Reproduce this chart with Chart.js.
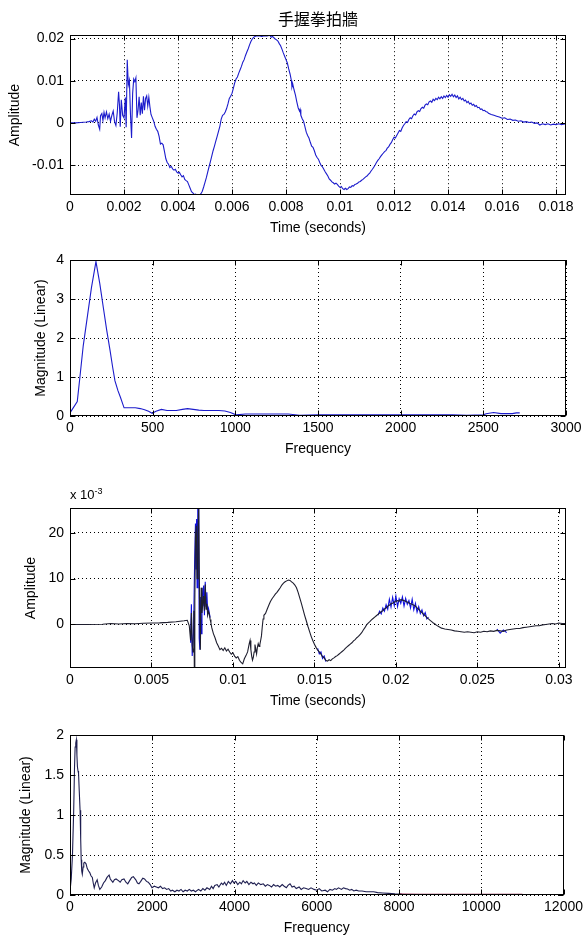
<!DOCTYPE html>
<html>
<head>
<meta charset="utf-8">
<title>手握拳拍牆</title>
<script src="https://cdn.jsdelivr.net/npm/chart.js@4.4.1/dist/chart.umd.min.js"></script>
<style>
    html, body { margin: 0; padding: 0; background: #fff; }
    #page { position: relative; width: 587px; height: 937px; background: #fff; overflow: hidden; }
    #page canvas { position: absolute; left: 0; }
    .mult { position: absolute; left: 70px; top: 486px; font: 13px "Liberation Sans", Arial, sans-serif; color: #000; }
    .mult sup { font-size: 9px; }
</style>
</head>
<body>
<div id="page">
    <canvas id="c1" width="587" height="235" style="top:0px"></canvas>
    <canvas id="c2" width="587" height="216" style="top:240px"></canvas>
    <canvas id="c3" width="587" height="238" style="top:470px"></canvas>
    <canvas id="c4" width="587" height="225" style="top:710px"></canvas>
    <div class="mult">x 10<sup>-3</sup></div>
</div>
<script>
    "use strict";

    // --- plot 1: recorded waveform, [time s, amplitude] ---
    const wave1 = [
        [0, 0], [0.0002, 0], [0.0004, 0.0001], [0.0006, 0.0002], [0.0007, 0.0003], [0.0008, 0.0005],
        [0.00085, 0.0002], [0.0009, 0.0009], [0.00095, 0.0004], [0.001, 0.0013], [0.00105, -0.0005],
        [0.0011, -0.0015], [0.00113, 0.0017], [0.00118, 0.0022], [0.00122, 0.0006], [0.00126, 0.0025],
        [0.0013, 0.0012], [0.00135, 0.0026], [0.0014, 0.0010], [0.00145, 0.0021], [0.0015, 0.0004],
        [0.00155, 0.0018], [0.0016, 0.0028], [0.00165, 0.0003], [0.0017, -0.0006], [0.00175, 0.0024],
        [0.0018, 0.0074], [0.00183, 0.0045], [0.00186, -0.0009], [0.0019, 0.0055], [0.00195, 0.0018],
        [0.002, 0.0012], [0.00205, 0.0060], [0.00208, -0.0010], [0.00212, 0.0150], [0.00216, 0.0090],
        [0.0022, 0.0101], [0.00224, 0.0020], [0.00228, -0.0036], [0.00232, 0.0070], [0.00236, 0.0104],
        [0.0024, 0.0098], [0.00244, 0.0107], [0.00248, 0.0012], [0.00252, 0.0030], [0.00256, 0.0062],
        [0.0026, 0.0018], [0.00264, 0.0048], [0.00268, 0.0022], [0.00272, 0.0063], [0.00276, 0.0030],
        [0.0028, 0.0058], [0.00284, 0.0064], [0.00288, 0.0040], [0.00292, 0.0061], [0.00296, 0.0038],
        [0.003, 0.0020], [0.00305, 0.0012], [0.0031, 0.0004], [0.00315, -0.0008], [0.0032, -0.0015],
        [0.00325, -0.0020], [0.0033, -0.0032], [0.00335, -0.0050], [0.0034, -0.0048], [0.00345, -0.0052],
        [0.0035, -0.0068], [0.00355, -0.0085], [0.0036, -0.0094], [0.00365, -0.0098], [0.0037, -0.0106],
        [0.00375, -0.0103], [0.0038, -0.0109], [0.00385, -0.0112], [0.0039, -0.0110], [0.00395, -0.0116],
        [0.004, -0.0119], [0.00405, -0.0117], [0.0041, -0.0123], [0.00415, -0.0128], [0.0042, -0.0125],
        [0.00425, -0.0134], [0.0043, -0.0137], [0.00435, -0.0139], [0.0044, -0.0147], [0.00445, -0.0155],
        [0.0045, -0.0163], [0.00455, -0.0166], [0.0046, -0.0170], [0.00465, -0.0169], [0.0047, -0.0171],
        [0.00475, -0.0170], [0.0048, -0.0171], [0.00485, -0.0168], [0.0049, -0.0162], [0.00495, -0.0152],
        [0.005, -0.0141], [0.00505, -0.0130], [0.0051, -0.0117], [0.00515, -0.0104], [0.0052, -0.0092],
        [0.00525, -0.0079], [0.0053, -0.0066], [0.00535, -0.0055], [0.0054, -0.0043], [0.00545, -0.0032],
        [0.0055, -0.0020], [0.00555, -0.0008], [0.0056, 0.0009], [0.00565, 0.0018], [0.0057, 0.0020],
        [0.00575, 0.0026], [0.0058, 0.0034], [0.00585, 0.0045], [0.0059, 0.0058], [0.00595, 0.0063],
        [0.006, 0.0070], [0.00605, 0.0082], [0.0061, 0.0095], [0.00615, 0.0104], [0.0062, 0.0109],
        [0.00625, 0.0118], [0.0063, 0.0126], [0.00635, 0.0134], [0.0064, 0.0144], [0.00645, 0.0150],
        [0.0065, 0.0160], [0.00655, 0.0168], [0.0066, 0.0176], [0.00665, 0.0185], [0.0067, 0.0193],
        [0.00675, 0.0199], [0.0068, 0.0203], [0.00685, 0.0205], [0.0069, 0.0206], [0.007, 0.0207],
        [0.0071, 0.0205], [0.0072, 0.0207], [0.0073, 0.0206], [0.0074, 0.0208], [0.00745, 0.0203],
        [0.0075, 0.0205], [0.0076, 0.0199], [0.00765, 0.0197], [0.0077, 0.0194], [0.00775, 0.0188],
        [0.0078, 0.0183], [0.00785, 0.0175], [0.0079, 0.0166], [0.00795, 0.0158], [0.008, 0.0150],
        [0.00805, 0.0142], [0.0081, 0.0128], [0.00815, 0.0116], [0.0082, 0.0100], [0.00822, 0.0085],
        [0.00825, 0.0092], [0.0083, 0.0078], [0.00835, 0.0066], [0.0084, 0.0050], [0.00845, 0.0036],
        [0.0085, 0.0028], [0.00852, 0.0032], [0.00855, 0.0018], [0.0086, 0.0010], [0.00865, 0.0004],
        [0.0087, -0.0009], [0.00875, -0.0022], [0.0088, -0.0030], [0.00885, -0.0036], [0.0089, -0.0046],
        [0.00895, -0.0055], [0.009, -0.0058], [0.00905, -0.0066], [0.0091, -0.0076], [0.00915, -0.0082],
        [0.0092, -0.0086], [0.00925, -0.0094], [0.0093, -0.0101], [0.00935, -0.0104], [0.0094, -0.0110],
        [0.00945, -0.0116], [0.0095, -0.0121], [0.00955, -0.0126], [0.0096, -0.0133], [0.00965, -0.0136],
        [0.0097, -0.0140], [0.00975, -0.0142], [0.0098, -0.0145], [0.00985, -0.0143], [0.0099, -0.0146],
        [0.00995, -0.0150], [0.01, -0.0153], [0.01005, -0.0151], [0.0101, -0.0156], [0.01015, -0.0158],
        [0.0102, -0.0155], [0.01025, -0.0158], [0.0103, -0.0156], [0.01035, -0.0152], [0.0104, -0.0153],
        [0.01045, -0.0149], [0.0105, -0.0150], [0.01055, -0.0146], [0.0106, -0.0145], [0.01065, -0.0143],
        [0.0107, -0.0140], [0.01075, -0.0139], [0.0108, -0.0136], [0.01085, -0.0134], [0.0109, -0.0131],
        [0.01095, -0.0128], [0.011, -0.0126], [0.01105, -0.0122], [0.0111, -0.0119], [0.01115, -0.0114],
        [0.0112, -0.0110], [0.01125, -0.0105], [0.0113, -0.0100], [0.01135, -0.0094], [0.0114, -0.0089],
        [0.01145, -0.0085], [0.0115, -0.0080], [0.01155, -0.0076], [0.0116, -0.0072], [0.01165, -0.0068],
        [0.0117, -0.0066], [0.01175, -0.0060], [0.0118, -0.0057], [0.01185, -0.0051], [0.0119, -0.0047],
        [0.01195, -0.0040], [0.012, -0.0034], [0.01205, -0.0036], [0.0121, -0.0030], [0.01215, -0.0024],
        [0.0122, -0.0018], [0.01225, -0.0020], [0.0123, -0.0012], [0.01235, -0.0006], [0.0124, -0.0002],
        [0.01245, 0.0003], [0.0125, 0.0001], [0.01255, 0.0008], [0.0126, 0.0012], [0.01265, 0.0010],
        [0.0127, 0.0017], [0.01275, 0.0021], [0.0128, 0.0019], [0.01285, 0.0026], [0.0129, 0.0029],
        [0.01295, 0.0027], [0.013, 0.0034], [0.01305, 0.0037], [0.0131, 0.0035], [0.01315, 0.0042],
        [0.0132, 0.0045], [0.01325, 0.0043], [0.0133, 0.0050], [0.01335, 0.0052], [0.0134, 0.0049],
        [0.01345, 0.0056], [0.0135, 0.0053], [0.01355, 0.0058], [0.0136, 0.0055], [0.01365, 0.0061],
        [0.0137, 0.0057], [0.01375, 0.0062], [0.0138, 0.0058], [0.01385, 0.0064], [0.0139, 0.0060],
        [0.01395, 0.0065], [0.014, 0.0061], [0.01405, 0.0067], [0.0141, 0.0063], [0.01415, 0.0068],
        [0.0142, 0.0062], [0.01425, 0.0066], [0.0143, 0.0060], [0.01435, 0.0064], [0.0144, 0.0057],
        [0.01445, 0.0061], [0.0145, 0.0055], [0.01455, 0.0058], [0.0146, 0.0052], [0.01465, 0.0054],
        [0.0147, 0.0048], [0.01475, 0.0051], [0.0148, 0.0045], [0.01485, 0.0047], [0.0149, 0.0042],
        [0.01495, 0.0044], [0.015, 0.0039], [0.01505, 0.0041], [0.0151, 0.0036], [0.01515, 0.0037],
        [0.0152, 0.0032], [0.01525, 0.0033], [0.0153, 0.0029], [0.01535, 0.0030], [0.0154, 0.0027],
        [0.01545, 0.0026], [0.0155, 0.0023], [0.0156, 0.0020], [0.0157, 0.0018], [0.0158, 0.0016],
        [0.0159, 0.0014], [0.016, 0.0011], [0.0161, 0.0012], [0.0162, 0.0008], [0.0163, 0.0009],
        [0.0164, 0.0006], [0.0165, 0.0007], [0.0166, 0.0004], [0.0167, 0.0005], [0.0168, 0.0002],
        [0.0169, 0.0003], [0.017, 0.0001], [0.0171, 0.0002], [0.0172, -0.0001], [0.0173, 0.0000],
        [0.0174, -0.0005], [0.0175, -0.0002], [0.0176, -0.0004], [0.0177, -0.0002], [0.0178, -0.0005],
        [0.0179, -0.0003], [0.018, -0.0004], [0.0181, -0.0002], [0.0182, -0.0004], [0.01837, -0.0002]
    ];

    // --- plot 2: spectrum of plot 1, [Hz, magnitude] ---
    const spec1 = [
        [0, 0.08], [44, 0.37], [60, 1.0], [80, 1.8], [105, 2.55], [130, 3.3], [157, 3.96], [180, 3.4],
        [202, 2.77], [222, 2.2], [242, 1.69], [258, 1.25], [272, 0.9], [290, 0.65], [305, 0.48],
        [327, 0.21], [350, 0.21], [395, 0.21], [425, 0.19], [451, 0.16], [475, 0.12], [497, 0.07],
        [520, 0.12], [553, 0.17], [587, 0.14], [620, 0.14], [643, 0.14], [680, 0.17], [711, 0.19],
        [745, 0.17], [779, 0.15], [810, 0.14], [846, 0.14], [900, 0.14], [937, 0.13], [970, 0.09],
        [1005, 0.03], [1061, 0.05], [1200, 0.05], [1320, 0.05], [1388, 0.02], [1500, 0.03], [1800, 0.03],
        [2100, 0.03], [2314, 0.03], [2400, 0.02], [2500, 0.03], [2517, 0.06], [2562, 0.09], [2607, 0.06],
        [2675, 0.06], [2700, 0.08], [2720, 0.08]
    ];

    // --- plot 3: second recording, amplitude in units of 1e-3 ---
    const wave2 = [
        [0, 0], [0.001, 0], [0.002, 0.05], [0.0025, 0.2], [0.003, 0.1], [0.0035, 0.2], [0.004, 0.15],
        [0.0045, 0.25], [0.005, 0.3], [0.0055, 0.35], [0.006, 0.45], [0.0065, 0.6], [0.007, 0.8],
        [0.0072, 0.9], [0.00732, -0.3], [0.0074, -3.5], [0.00745, 2.5], [0.0075, -4.5], [0.00755, -6],
        [0.0076, 3], [0.00763, -9.5], [0.00766, 5], [0.0077, 19], [0.00775, 21.5], [0.0078, 10],
        [0.00785, 20], [0.0079, 25.4], [0.00795, 5], [0.008, -5.5], [0.00805, 8], [0.0081, 2.5],
        [0.00815, 4.5], [0.0082, 6.2], [0.00825, 3], [0.0083, 8.7], [0.00835, 3.3], [0.0084, 4.5],
        [0.00845, 2], [0.0085, 2.8], [0.00855, 2.3], [0.0086, 1.1], [0.00865, 0.3], [0.0087, -0.7],
        [0.0088, -2.0], [0.0089, -2.9], [0.009, -4.0], [0.0091, -4.7], [0.0092, -5.5], [0.0093, -5.2],
        [0.0094, -5.7], [0.0095, -5.1], [0.0096, -5.8], [0.0097, -5.4], [0.0098, -6.0], [0.0099, -6.5],
        [0.01, -6.2], [0.0101, -6.9], [0.0102, -7.3], [0.0103, -7.0], [0.0104, -7.8], [0.0105, -8.3],
        [0.0106, -8.6], [0.0107, -7.5], [0.0108, -6.8], [0.0109, -6.0], [0.011, -4.2], [0.01105, -3.5],
        [0.0111, -5.5], [0.01115, -6.9], [0.0112, -7.8], [0.01125, -7.2], [0.0113, -6.0], [0.01135, -4.4],
        [0.0114, -5.3], [0.01145, -6.4], [0.0115, -5.0], [0.01155, -4.2], [0.0116, -4.8], [0.01165, -4.4],
        [0.0117, -3.5], [0.01175, -2.5], [0.0118, -0.5], [0.01185, 1.2], [0.0119, 2.0], [0.012, 2.4],
        [0.0121, 3.3], [0.0122, 4.2], [0.0123, 5.0], [0.0124, 5.6], [0.0125, 6.1], [0.0126, 6.6],
        [0.0127, 7.0], [0.0128, 7.5], [0.0129, 8.0], [0.013, 8.6], [0.0131, 9.0], [0.0132, 9.3],
        [0.0133, 9.5], [0.0134, 9.7], [0.0135, 9.6], [0.0136, 9.3], [0.0137, 9.0], [0.0138, 8.6],
        [0.0139, 8.0], [0.014, 7.0], [0.0141, 5.8], [0.0142, 4.6], [0.0143, 3.3], [0.0144, 2.0],
        [0.0145, 0.8], [0.0146, -0.4], [0.0147, -1.5], [0.0148, -2.6], [0.0149, -3.5], [0.015, -4.3],
        [0.0151, -5.0], [0.0152, -5.6], [0.0153, -6.0], [0.0154, -6.5], [0.0155, -7.0], [0.0156, -7.3],
        [0.0157, -7.8], [0.0158, -8.0], [0.0159, -7.7], [0.016, -7.9], [0.0161, -7.5], [0.0162, -7.3],
        [0.0163, -7.0], [0.0164, -6.8], [0.0165, -6.5], [0.0166, -6.2], [0.0167, -5.9], [0.0168, -5.6],
        [0.0169, -5.2], [0.017, -4.9], [0.0171, -4.6], [0.0172, -4.3], [0.0173, -4.0], [0.0174, -3.6],
        [0.0175, -3.3], [0.0176, -2.9], [0.0177, -2.6], [0.0178, -2.2], [0.0179, -1.8], [0.018, -1.2],
        [0.0181, -0.7], [0.0182, -0.1], [0.0183, 0.3], [0.0184, 0.6], [0.0185, 1.0], [0.0186, 1.3],
        [0.0187, 1.6], [0.0188, 1.9], [0.0189, 2.2], [0.019, 2.5], [0.0191, 2.8], [0.0192, 3.0],
        [0.0193, 3.4], [0.0194, 3.6], [0.0195, 4.0], [0.0196, 4.2], [0.0197, 4.5], [0.0198, 4.6],
        [0.0199, 4.9], [0.02, 5.0], [0.0201, 5.2], [0.0202, 5.1], [0.0203, 5.4], [0.0204, 5.3],
        [0.0205, 5.2], [0.0206, 5.0], [0.0207, 4.9], [0.0208, 4.7], [0.0209, 4.5], [0.021, 4.4],
        [0.0211, 4.2], [0.0212, 4.0], [0.0213, 3.6], [0.0214, 3.3], [0.0215, 2.9], [0.0216, 2.6],
        [0.0217, 2.2], [0.0218, 1.9], [0.0219, 1.5], [0.022, 1.2], [0.0221, 0.9], [0.0222, 0.6],
        [0.0223, 0.3], [0.0224, 0.1], [0.0225, -0.2], [0.0226, -0.4], [0.0227, -0.6], [0.0228, -0.8],
        [0.0229, -0.9], [0.023, -1.0], [0.0232, -1.1], [0.0234, -1.2], [0.0236, -1.4], [0.0238, -1.5],
        [0.024, -1.6], [0.0242, -1.7], [0.0244, -1.6], [0.0246, -1.7], [0.0248, -1.8], [0.025, -1.6],
        [0.0252, -1.7], [0.0254, -1.5], [0.0256, -1.6], [0.0258, -1.4], [0.026, -1.5], [0.0262, -1.3],
        [0.0264, -1.4], [0.0266, -1.5], [0.0268, -1.2], [0.027, -1.1], [0.0272, -1.0], [0.0274, -0.9],
        [0.0276, -0.9], [0.0278, -0.7], [0.028, -0.6], [0.0282, -0.5], [0.0284, -0.4], [0.0286, -0.3],
        [0.0288, -0.3], [0.029, -0.1], [0.0292, 0.0], [0.0294, 0.1], [0.0296, 0.2], [0.0298, 0.1],
        [0.03, 0.3], [0.0302, 0.2], [0.0304, 0.2]
    ];

    // blue raw trace, only where it shows from under the dark one (null = gap)
    const wave2Raw = [
        [0.0074, -4], [0.00745, 4.4], [0.0075, -6.9], [0.00758, -2], [0.00765, 14], [0.0077, 22],
        [0.00773, 12], [0.00777, 23], [0.0078, 8], [0.00784, 25.4], [0.00788, 18], [0.0079, 25.4],
        [0.00793, -3], [0.00797, -5.5], [0.008, 6], [0.00805, -2], [0.0081, 8], [0.00815, 4],
        [0.0082, 8.5], [0.00825, 2], [0.0083, 9.3], [0.00835, 4], [0.0084, 7], [0.00845, 2.5],
        [0.0085, 3.5], [0.0086, 1.5], [0.0087, null],
        [0.0152, -5.2], [0.0153, -6.4], [0.0154, -6.0], [0.0155, -7.4], [0.0156, -6.9], [0.0157, -8.1],
        [0.0158, null],
        [0.0189, 2.0], [0.019, 2.9], [0.0191, 2.3], [0.0192, 3.6], [0.0193, 2.9], [0.0194, 4.3],
        [0.0195, 3.3], [0.0196, 5.5], [0.0197, 3.8], [0.0198, 5.9], [0.0199, 4.1], [0.02, 6.2],
        [0.0201, 3.9], [0.0202, 5.6], [0.0203, 4.6], [0.0204, 6.0], [0.0205, 4.0], [0.0206, 5.7],
        [0.0207, 4.4], [0.0208, 5.2], [0.0209, 3.6], [0.021, 5.5], [0.0211, 3.2], [0.0212, 4.6],
        [0.0213, 2.7], [0.0214, 3.9], [0.0215, 2.4], [0.0216, 3.2], [0.0217, 1.9], [0.0218, 2.6],
        [0.0219, 1.2], [0.022, 1.6], [0.0221, null],
        [0.0262, -1.0], [0.0264, -1.9], [0.0266, -1.2], [0.0268, -1.8]
    ];

    // --- plot 4: spectrum of plot 3, [Hz, magnitude] ---
    const spec2 = [
        [0, 0.05], [30, 0.2], [60, 0.5], [90, 1.06], [110, 1.6], [125, 1.85], [140, 1.9], [154, 1.94],
        [168, 1.75], [181, 1.6], [195, 1.55], [208, 1.52], [225, 1.3], [245, 1.06], [260, 0.7],
        [272, 0.44], [285, 0.3], [299, 0.26], [320, 0.35], [335, 0.4], [360, 0.41], [390, 0.39],
        [420, 0.33], [453, 0.3], [480, 0.28], [510, 0.24], [543, 0.22], [565, 0.15], [589, 0.09],
        [620, 0.15], [661, 0.19], [690, 0.12], [725, 0.07], [770, 0.1], [815, 0.15], [860, 0.18],
        [900, 0.22], [951, 0.25], [980, 0.2], [1010, 0.18], [1042, 0.16], [1080, 0.19], [1120, 0.2],
        [1178, 0.18], [1220, 0.16], [1260, 0.19], [1313, 0.2], [1360, 0.16], [1404, 0.14], [1450, 0.18],
        [1500, 0.22], [1540, 0.23], [1600, 0.19], [1640, 0.15], [1676, 0.14], [1720, 0.17], [1770, 0.21],
        [1812, 0.2], [1860, 0.17], [1902, 0.16], [1950, 0.13], [1993, 0.09], [2050, 0.11], [2100, 0.1],
        [2150, 0.09], [2200, 0.11], [2250, 0.08], [2300, 0.09], [2350, 0.07], [2400, 0.08], [2450, 0.05],
        [2491, 0.06], [2550, 0.04], [2600, 0.06], [2650, 0.05], [2700, 0.07], [2750, 0.04], [2800, 0.06],
        [2853, 0.05], [2900, 0.07], [2950, 0.05], [3000, 0.06], [3050, 0.04], [3125, 0.07], [3180, 0.05],
        [3230, 0.08], [3280, 0.06], [3330, 0.09], [3397, 0.07], [3440, 0.11], [3480, 0.08], [3520, 0.12],
        [3578, 0.13], [3620, 0.1], [3680, 0.15], [3720, 0.13], [3759, 0.16], [3800, 0.12], [3850, 0.17],
        [3900, 0.14], [3950, 0.18], [3986, 0.15], [4030, 0.17], [4080, 0.13], [4130, 0.16], [4167, 0.14],
        [4210, 0.18], [4260, 0.15], [4300, 0.17], [4350, 0.13], [4400, 0.16], [4450, 0.14], [4484, 0.15],
        [4530, 0.12], [4580, 0.15], [4640, 0.13], [4700, 0.14], [4750, 0.11], [4800, 0.13], [4846, 0.12],
        [4900, 0.1], [4950, 0.13], [5000, 0.11], [5050, 0.12], [5100, 0.1], [5160, 0.13], [5208, 0.11],
        [5260, 0.09], [5300, 0.12], [5350, 0.14], [5400, 0.1], [5450, 0.11], [5500, 0.08], [5571, 0.1],
        [5620, 0.07], [5680, 0.09], [5740, 0.08], [5800, 0.07], [5860, 0.09], [5933, 0.07], [6000, 0.06],
        [6060, 0.08], [6120, 0.05], [6205, 0.06], [6260, 0.04], [6320, 0.07], [6380, 0.06], [6440, 0.08],
        [6476, 0.07], [6530, 0.09], [6600, 0.07], [6650, 0.09], [6700, 0.08], [6748, 0.075], [6800, 0.06],
        [6850, 0.07], [6900, 0.05], [6960, 0.06], [7020, 0.05], [7100, 0.05], [7200, 0.04], [7300, 0.04],
        [7382, 0.04], [7480, 0.03], [7600, 0.025], [7745, 0.02], [7900, 0.015], [8062, 0.012]
    ];
    const spec2Tail = [
        [8000, 0.012], [8500, 0.01], [9000, 0.01], [9500, 0.01], [10000, 0.01], [10500, 0.01], [11000, 0.01]
    ];

    // tick values
    const ticksX1 = [0, 0.002, 0.004, 0.006, 0.008, 0.01, 0.012, 0.014, 0.016, 0.018];
    const ticksY1 = [-0.01, 0, 0.01, 0.02];
    const ticksX2 = [0, 500, 1000, 1500, 2000, 2500, 3000];
    const ticksY2 = [0, 1, 2, 3, 4];
    const ticksX3 = [0, 0.005, 0.01, 0.015, 0.02, 0.025, 0.03];
    const ticksY3 = [0, 10, 20];
    const ticksX4 = [0, 2000, 4000, 6000, 8000, 10000, 12000];
    const ticksY4 = [0, 0.5, 1, 1.5, 2];

    const FONT = '"Liberation Sans", Arial, Helvetica, sans-serif';
    const BLUE = '#1c1ccc';

    function fmtTick(v) {
        return String(Number(Number(v).toPrecision(6)));
    }

    // matlab style axes box with inward tick marks on all four sides
    const matlabBox = {
        id: 'matlabBox',
        afterDraw: function (chart) {
            const ctx = chart.ctx;
            const a = chart.chartArea;
            const sx = chart.scales.x;
            const sy = chart.scales.y;
            const L = Math.round(a.left) + 0.5, R = Math.round(a.right) - 0.5;
            const T = Math.round(a.top) + 0.5, B = Math.round(a.bottom) - 0.5;
            ctx.save();
            ctx.strokeStyle = '#000';
            ctx.lineWidth = 1;
            ctx.beginPath();
            sx.ticks.forEach(function (t) {
                const px = Math.round(sx.getPixelForValue(t.value)) + 0.5;
                ctx.moveTo(px, B); ctx.lineTo(px, B - 5);
                ctx.moveTo(px, T); ctx.lineTo(px, T + 5);
            });
            sy.ticks.forEach(function (t) {
                const py = Math.round(sy.getPixelForValue(t.value)) + 0.5;
                ctx.moveTo(L, py); ctx.lineTo(L + 5, py);
                ctx.moveTo(R, py); ctx.lineTo(R - 5, py);
            });
            ctx.stroke();
            ctx.strokeRect(L, T, R - L, B - T);
            ctx.restore();
        }
    };

    function axis(min, max, ticks, title, fitSide, fitSize, titlePad) {
        const horiz = fitSide === 'height';
        return {
            type: 'linear',
            min: min,
            max: max,
            afterBuildTicks: function (s) { s.ticks = ticks.map(function (v) { return { value: v }; }); },
            afterFit: function (s) { s[fitSide] = fitSize; },
            grid: { color: '#000', lineWidth: 1, drawTicks: false },
            border: { display: false, dash: [1, 3] },
            ticks: {
                padding: horiz ? 4 : 6,
                color: '#000',
                autoSkip: false,
                maxRotation: 0,
                font: { family: FONT, size: 14 },
                callback: fmtTick
            },
            title: {
                display: true,
                text: title,
                color: '#000',
                font: { family: FONT, size: 14 },
                padding: horiz ? { top: 0, bottom: -2 } : { top: titlePad, bottom: 0 }
            }
        };
    }

    function buildChart(id, spec) {
        const ctx = document.getElementById(id).getContext('2d');
        return new Chart(ctx, {
            type: 'line',
            data: {
                datasets: spec.series.map(function (s) {
                    return {
                        data: s.points.map(function (p) { return { x: p[0], y: p[1] }; }),
                        borderColor: s.color,
                        borderWidth: 1.1,
                        pointRadius: 0,
                        tension: 0,
                        fill: false,
                        spanGaps: false,
                        order: s.order || 0
                    };
                })
            },
            options: {
                responsive: false,
                animation: false,
                events: [],
                layout: { padding: { top: spec.padTop, right: 21, left: 0, bottom: 0 } },
                plugins: {
                    legend: { display: false },
                    tooltip: { enabled: false },
                    title: spec.title ? {
                        display: true,
                        text: spec.title,
                        fullSize: false,
                        color: '#000',
                        font: { family: '"Noto Sans CJK TC", "Noto Sans CJK SC", sans-serif', size: 16, weight: 'normal' },
                        padding: { top: 9, bottom: 7 }
                    } : { display: false }
                },
                scales: {
                    x: axis(spec.xMin, spec.xMax, spec.xTicks, spec.xTitle, 'height', 40, 0),
                    y: axis(spec.yMin, spec.yMax, spec.yTicks, spec.yTitle, 'width', 70, spec.yTitlePad)
                }
            },
            plugins: [matlabBox]
        });
    }

    buildChart('c1', {
        title: '手握拳拍牆', padTop: 0,
        series: [{ points: wave1, color: BLUE }],
        xMin: 0, xMax: 0.01837, xTicks: ticksX1, xTitle: 'Time (seconds)',
        yMin: -0.0171, yMax: 0.0208, yTicks: ticksY1, yTitle: 'Amplitude', yTitlePad: 7
    });

    buildChart('c2', {
        padTop: 20,
        series: [{ points: spec1, color: BLUE }],
        xMin: 0, xMax: 3000, xTicks: ticksX2, xTitle: 'Frequency',
        yMin: 0, yMax: 4, yTicks: ticksY2, yTitle: 'Magnitude (Linear)', yTitlePad: 33
    });

    buildChart('c3', {
        padTop: 38,
        series: [
            { points: wave2, color: '#1e1e2e', order: 0 },
            { points: wave2Raw, color: '#1010dd', order: 1 }
        ],
        xMin: 0, xMax: 0.03044, xTicks: ticksX3, xTitle: 'Time (seconds)',
        yMin: -9.5, yMax: 25.4, yTicks: ticksY3, yTitle: 'Amplitude', yTitlePad: 23
    });

    buildChart('c4', {
        padTop: 25,
        series: [
            { points: spec2Tail, color: '#8a1040', order: 0 },
            { points: spec2, color: '#1e1e50', order: 1 }
        ],
        xMin: 0, xMax: 12000, xTicks: ticksX4, xTitle: 'Frequency',
        yMin: 0, yMax: 2, yTicks: ticksY4, yTitle: 'Magnitude (Linear)', yTitlePad: 18
    });
</script>
</body>
</html>
